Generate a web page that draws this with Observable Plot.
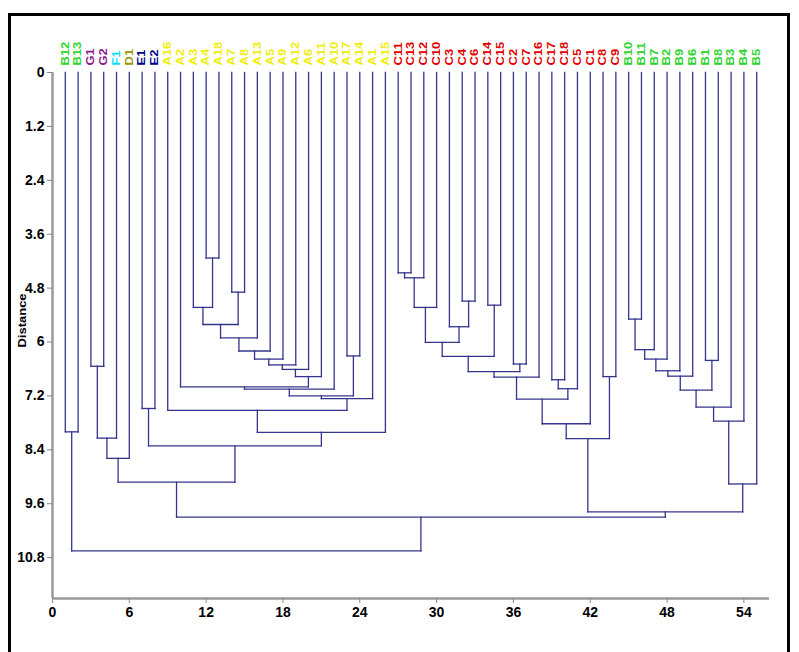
<!DOCTYPE html>
<html>
<head>
<meta charset="utf-8">
<script src="https://cdn.jsdelivr.net/npm/d3@7"></script>
<script src="https://cdn.jsdelivr.net/npm/@observablehq/plot@0.6"></script>
<style>
html, body { margin: 0; padding: 0; background: #fff; overflow: hidden; width: 799px; height: 652px; }
#frame { position: absolute; left: 8px; top: 13px; width: 776px; height: 660px; border: 3px solid #000; border-bottom: none; }
#chart { position: absolute; left: 0; top: 0; }
</style>
</head>
<body>
<div id="frame"></div>
<div id="chart"></div>
<script>
// Leaf labels in dendrogram order (x = 1 .. 55)
const leaves = ["B12","B13","G1","G2","F1","D1","E1","E2",
  "A16","A2","A3","A4","A18","A7","A8","A13","A5","A9","A12","A6","A11","A10","A17","A14","A1","A15",
  "C11","C13","C12","C10","C3","C4","C6","C14","C15","C2","C7","C16","C17","C18","C5","C1","C8","C9",
  "B10","B11","B7","B2","B9","B6","B1","B8","B3","B4","B5"];

// Linkage: [left, right, distance]; "mK" refers to the K-th merge (1-based)
const merges = [
  ["G1","G2",6.54], ["m1","F1",8.14], ["m2","D1",8.59], ["B12","B13",8.00], ["E1","E2",7.48],
  ["A4","A18",4.13], ["A3","m6",5.23], ["A7","A8",4.89], ["m7","m8",5.61], ["m9","A13",5.91],
  ["m10","A5",6.20], ["m11","A9",6.38], ["m12","A12",6.51], ["m13","A6",6.61], ["m14","A11",6.77],
  ["A2","m15",7.00], ["m16","A10",7.05], ["A17","A14",6.31], ["m17","m18",7.20], ["m19","A1",7.26],
  ["A16","m20",7.52], ["m21","A15",8.01], ["m5","m22",8.31], ["m3","m23",9.12],
  ["C11","C13",4.46], ["m25","C12",4.57], ["m26","C10",5.23], ["C4","C6",5.09], ["C3","m28",5.66],
  ["m27","m29",6.01], ["C14","C15",5.18], ["m30","m31",6.32], ["C2","C7",6.49], ["m32","m33",6.66],
  ["m34","C16",6.78], ["C17","C18",6.84], ["m36","C5",7.04], ["m35","m37",7.27], ["m38","C1",7.82],
  ["C8","C9",6.77], ["m39","m40",8.15],
  ["B10","B11",5.49], ["m42","B7",6.17], ["m43","B2",6.38], ["m44","B9",6.64], ["m45","B6",6.76],
  ["B1","B8",6.41], ["m46","m47",7.07], ["m48","B3",7.45], ["m49","B4",7.76], ["m50","B5",9.16],
  ["m41","m51",9.78], ["m24","m52",9.90], ["m4","m53",10.65]
];

const yTicks = [0, 1.2, 2.4, 3.6, 4.8, 6, 7.2, 8.4, 9.6, 10.8];
const xTicks = [0, 6, 12, 18, 24, 30, 36, 42, 48, 54];
const groupColors = {A: "#eeee10", B: "#2fd42f", C: "#e00000", D: "#9a9a00", E: "#00008c", F: "#10dfef", G: "#8c1a8c"};

const xMax = 56, yMax = 11.71;

// Build dendrogram segments from the linkage
const pos = new Map();
leaves.forEach((l, i) => pos.set(l, {x: i + 1, y: 0}));
const segs = [];
merges.forEach(([a, b, h], k) => {
  const A = pos.get(a), B = pos.get(b);
  segs.push({x1: A.x, y1: A.y, x2: A.x, y2: h});
  segs.push({x1: B.x, y1: B.y, x2: B.x, y2: h});
  segs.push({x1: A.x, y1: h, x2: B.x, y2: h});
  pos.set("m" + (k + 1), {x: (A.x + B.x) / 2, y: h});
});

const axisFont = "'Liberation Sans Narrow', 'Arial Narrow', 'Liberation Sans', Arial, sans-serif";

const plot = Plot.plot({
  width: 799,
  height: 652,
  marginLeft: 52,
  marginRight: 30,
  marginTop: 72,
  marginBottom: 54,
  x: {domain: [0, xMax], axis: null},
  y: {domain: [0, yMax], reverse: true, axis: null},
  style: {background: "transparent", fontFamily: "'Liberation Sans', Arial, sans-serif", overflow: "visible"},
  marks: [
    Plot.ruleY([yMax], {x1: 0, x2: xMax, stroke: "#9a9a9a", strokeWidth: 2.5}),
    Plot.ruleX([0], {y1: 0, y2: yMax, stroke: "#9a9a9a", strokeWidth: 2.5}),
    Plot.axisX({ticks: xTicks, tickFormat: d => `${d}`, tickSize: 5, tickPadding: 4, stroke: "#888", fill: "#000",
      fontSize: 14, fontWeight: "bold", fontFamily: axisFont}),
    Plot.axisY({ticks: yTicks, tickFormat: d => `${d}`, tickSize: 5, tickPadding: 3, stroke: "#888", fill: "#000",
      fontSize: 14, fontWeight: "bold", fontFamily: axisFont}),
    Plot.link(segs, {x1: "x1", y1: "y1", x2: "x2", y2: "y2", stroke: "#34348c", strokeWidth: 1.3, strokeLinecap: "square"}),
    Plot.text(leaves, {x: (d, i) => i + 1, y: 0, text: d => d, rotate: -90, textAnchor: "start", dy: -7,
      fill: d => groupColors[d[0]], fontSize: 13, fontWeight: "bold"}),
    Plot.text(["Distance"], {frameAnchor: "left", dx: -30, dy: -15, rotate: -90, textAnchor: "middle",
      fontSize: 13, fontWeight: "bold", fill: "#000"})
  ]
});

// horizontally condensed look of the original rotated texts
d3.select(plot).selectAll("text").each(function() {
  const t = this.getAttribute("transform");
  if (t && t.includes("rotate")) this.setAttribute("transform", t + " scale(1,0.8)");
});

document.getElementById("chart").appendChild(plot);
</script>
</body>
</html>
